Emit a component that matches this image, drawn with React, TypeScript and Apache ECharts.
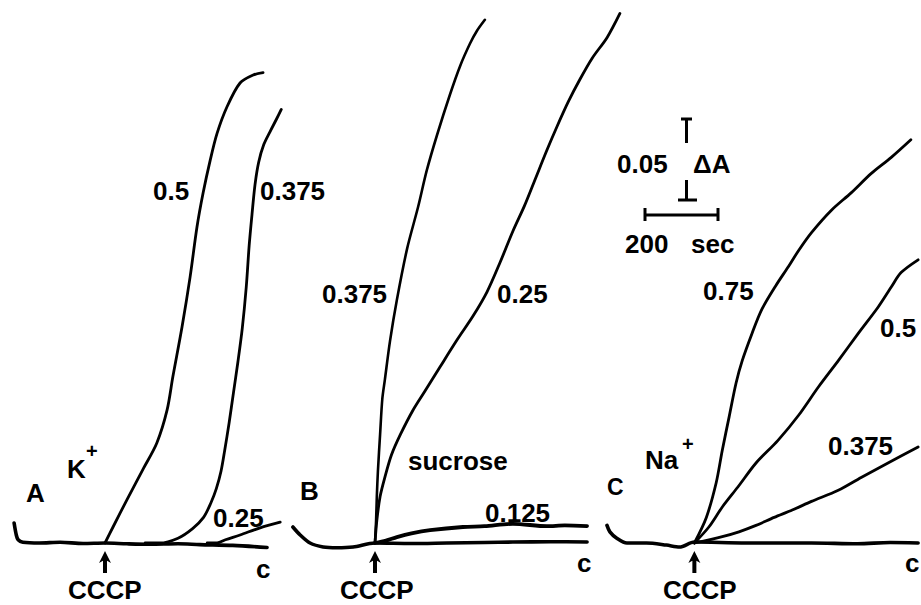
import React, { useEffect, useRef } from "react";
import * as echarts from "echarts";

// Values: [time after CCCP addition (s), ΔA relative to baseline]
// Panel A — K+
const aControl: [number, number][] = [[-249,0.0125],[-243,0.005],[-238,0.002],[-225,0.0005],[-180,0],[-123,0.0005],[-60,-0.0003],[0,0],[60,-0.0005],[123,-0.0008],[200,-0.0005],[260,-0.001],[350,-0.0015],[444,-0.0028]];
const aK050: [number, number][] = [[0,0],[22,0.010],[60,0.027],[104,0.046],[142,0.0625],[170,0.083],[186,0.104],[211,0.135],[233,0.166],[252,0.1975],[269,0.219],[288,0.239],[307,0.256],[334,0.2725],[370,0.2875],[406,0.2925],[433,0.294]];
const aK0375: [number, number][] = [[110,0],[150,0],[200,0.003],[240,0.009],[270,0.016],[290,0.025],[305,0.034],[318,0.045],[328,0.058],[340,0.075],[352,0.094],[364,0.113],[376,0.134],[387,0.16],[395,0.186],[403,0.206],[411,0.224],[421,0.238],[435,0.249],[452,0.257],[470,0.265],[483,0.271]];
const aK025: [number, number][] = [[280,0],[307,0],[330,0.002],[370,0.005],[425,0.0095],[480,0.013]];

// Panel B — sucrose
const bControl: [number, number][] = [[-225,0.010],[-205,0.005],[-178,0],[-142,-0.0025],[-104,-0.003],[-60,-0.0025],[0,0],[100,-0.0003],[197,0],[300,0.0003],[378,0.0006],[480,0.0008],[581,0.0006]];
const bS0125: [number, number][] = [[0,0],[30,0.0015],[60,0.0037],[100,0.006],[151,0.008],[241,0.010],[300,0.0105],[378,0.012],[471,0.0105],[520,0.011],[581,0.0106]];
const bS0375: [number, number][] = [[0,0],[3,0.014],[5,0.029],[8,0.045],[14,0.068],[20,0.09],[27,0.102],[41,0.126],[60,0.152],[88,0.184],[118,0.21],[142,0.233],[170,0.255],[205,0.28],[233,0.298],[260,0.312],[279,0.32],[301,0.327]];
const bS025: [number, number][] = [[0,0],[5,0.014],[14,0.029],[27,0.041],[45,0.055],[70,0.068],[104,0.083],[137,0.095],[178,0.11],[225,0.127],[269,0.142],[307,0.157],[342,0.175],[378,0.195],[410,0.211],[440,0.228],[470,0.245],[499,0.2605],[530,0.276],[562,0.29],[595,0.303],[636,0.316],[671,0.331]];

// Panel C — Na+
const cControl: [number, number][] = [[-241,0.011],[-233,0.007],[-214,0.003],[-186,0],[-132,0],[-77,-0.0013],[-41,-0.0025],[0,0.0006],[142,0],[323,0],[450,-0.0005],[540,0.0003],[617,0]];
const cNa075: [number, number][] = [[0,0],[33,0.016],[60,0.0375],[77,0.058],[96,0.079],[115,0.10],[132,0.114],[159,0.131],[186,0.146],[225,0.161],[260,0.173],[288,0.183],[323,0.194],[378,0.208],[433,0.219],[488,0.231],[543,0.241],[597,0.252]];
const cNa050: [number, number][] = [[0,0],[40,0.010],[77,0.0225],[120,0.035],[170,0.05],[230,0.064],[288,0.08],[342,0.0975],[397,0.114],[452,0.131],[507,0.1475],[543,0.16],[570,0.169],[617,0.177]];
const cNa0375: [number, number][] = [[0,0],[77,0.004],[123,0.007],[170,0.011],[220,0.016],[270,0.0206],[323,0.026],[397,0.033],[460,0.041],[534,0.05],[617,0.06]];

const curveLabels = ["0.5", "0.375", "0.25", "0.375", "0.25", "0.125", "0.75", "0.5", "0.375"];

// layout constants
const PX_PER_SEC = 73 / 200;
const PX_PER_DA = 80 / 0.05;
const BASE_Y = 543;
const Y_MIN = -0.035;
const Y_MAX = 0.335;
const panels = [
  { origin: 105, xMin: -260, xMax: 500 },
  { origin: 375, xMin: -240, xMax: 700 },
  { origin: 695, xMin: -260, xMax: 625 },
];

const FONT = '"Liberation Sans", Arial, sans-serif';
const ARROW = "path://M6 0 L12 13 L8 10.5 L8 24 L4 24 L4 10.5 L0 13 Z";

function txt(text: string, left: number, top: number, size = 26, weight: any = "bold") {
  return {
    type: "text",
    left,
    top,
    silent: true,
    style: { text, fill: "#000", fontSize: size, fontWeight: weight, fontFamily: FONT },
  };
}
function ln(x1: number, y1: number, x2: number, y2: number, w = 3) {
  return { type: "line", silent: true, shape: { x1, y1, x2, y2 }, style: { stroke: "#000", lineWidth: w } };
}

export default function App() {
  const ref = useRef<HTMLDivElement>(null);
  useEffect(() => {
    document.body.style.margin = "0";
    const chart = echarts.init(ref.current!, null, { renderer: "svg" });
    const grids = panels.map((p) => ({
      left: p.origin + p.xMin * PX_PER_SEC,
      width: (p.xMax - p.xMin) * PX_PER_SEC,
      top: BASE_Y - Y_MAX * PX_PER_DA,
      height: (Y_MAX - Y_MIN) * PX_PER_DA,
      containLabel: false,
    }));
    const xAxes = panels.map((p, i) => ({ type: "value", gridIndex: i, min: p.xMin, max: p.xMax, show: false }));
    const yAxes = panels.map((_, i) => ({ type: "value", gridIndex: i, min: Y_MIN, max: Y_MAX, show: false }));
    const arrowMark = {
      symbol: ARROW,
      symbolSize: [12, 22],
      itemStyle: { color: "#000" },
      label: { show: false },
      silent: true,
      data: [{ coord: [0, -0.0119] }],
    };
    const defs: any[] = [
      { name: "A control", data: aControl, g: 0, w: 3.6, mark: true },
      { name: "K+ " + curveLabels[0], data: aK050, g: 0, w: 2.8 },
      { name: "K+ " + curveLabels[1], data: aK0375, g: 0, w: 2.8 },
      { name: "K+ " + curveLabels[2], data: aK025, g: 0, w: 2.8 },
      { name: "B control", data: bControl, g: 1, w: 3.6, mark: true },
      { name: "sucrose " + curveLabels[5], data: bS0125, g: 1, w: 3.8 },
      { name: "sucrose " + curveLabels[3], data: bS0375, g: 1, w: 2.6 },
      { name: "sucrose " + curveLabels[4], data: bS025, g: 1, w: 2.8 },
      { name: "C control", data: cControl, g: 2, w: 3.6, mark: true },
      { name: "Na+ " + curveLabels[6], data: cNa075, g: 2, w: 2.8 },
      { name: "Na+ " + curveLabels[7], data: cNa050, g: 2, w: 2.8 },
      { name: "Na+ " + curveLabels[8], data: cNa0375, g: 2, w: 2.8 },
    ];
    const series = defs.map((d) => ({
      type: "line",
      name: d.name,
      xAxisIndex: d.g,
      yAxisIndex: d.g,
      data: d.data,
      symbol: "none",
      smooth: 0.3,
      clip: false,
      lineStyle: { color: "#000", width: d.w, cap: "round", join: "round" },
      markPoint: d.mark ? arrowMark : undefined,
      silent: true,
    }));
    const graphic = [
      // panel A
      txt(curveLabels[0], 153, 178),
      txt(curveLabels[1], 260, 178),
      txt(curveLabels[2], 213, 505),
      txt("A", 26, 480),
      txt("K", 67, 456),
      txt("+", 86, 441, 20),
      txt("c", 256, 556),
      txt("CCCP", 68, 577),
      // panel B
      txt(curveLabels[3], 322, 281),
      txt(curveLabels[4], 497, 281),
      txt("sucrose", 408, 448),
      txt(curveLabels[5], 485, 500),
      txt("B", 300, 478),
      txt("c", 577, 550),
      txt("CCCP", 340, 577),
      // panel C
      txt(curveLabels[6], 703, 278),
      txt(curveLabels[7], 880, 315),
      txt(curveLabels[8], 828, 433),
      txt("C", 607, 475, 23, "bold"),
      txt("Na", 645, 447),
      txt("+", 682, 434, 20),
      txt("c", 905, 550),
      txt("CCCP", 663, 577),
      // scale bars
      txt("0.05", 617, 151),
      txt("ΔA", 693, 151),
      txt("200", 625, 231),
      txt("sec", 691, 231),
      ln(681, 119, 692, 119),
      ln(686.5, 119, 686.5, 143),
      ln(686.5, 180, 686.5, 200),
      ln(678, 200, 697, 200),
      ln(645, 215, 718, 215),
      ln(645, 208, 645, 221),
      ln(718, 208, 718, 221),
    ];
    chart.setOption({
      animation: false,
      backgroundColor: "#fff",
      grid: grids,
      xAxis: xAxes,
      yAxis: yAxes,
      series,
      graphic,
    });
    return () => chart.dispose();
  }, []);
  return (
    <div
      ref={ref}
      style={{ position: "absolute", left: 0, top: 0, width: 921, height: 605, background: "#fff" }}
    />
  );
}
